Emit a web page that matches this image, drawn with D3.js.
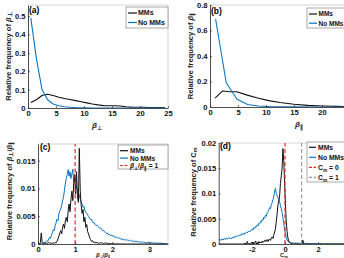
<!DOCTYPE html>
<html>
<head>
<meta charset="utf-8">
<script src="https://cdn.jsdelivr.net/npm/d3@7"></script>
<style>
  body { margin: 0; background: #fff; }
  svg { display: block; font-family: "Liberation Sans", Arial, sans-serif; font-weight: bold; }
</style>
</head>
<body>
<script>
// (a) beta_perp histogram, bin centres
const aX = [0.5, 1.5, 2.5, 3.5, 4.5, 5.5, 6.5, 7.5, 8.5, 9.5, 10.5, 11.5, 12.5, 13.5, 14.5, 15.5, 16.5, 17.5, 18.5, 19.5, 20.5, 21.5, 22.5, 23.5, 24.5]
const aMMs = [0.03, 0.045, 0.068, 0.075, 0.068, 0.058, 0.052, 0.046, 0.040, 0.034, 0.028, 0.022, 0.017, 0.013, 0.012, 0.012, 0.011, 0.007, 0.005, 0.004, 0.004, 0.003, 0.002, 0.002, 0.001]
const aNoMMs = [0.49, 0.27, 0.10, 0.045, 0.022, 0.012, 0.007, 0.004, 0.002, 0.001, 0.001, 0, 0, 0, 0, 0, 0, 0, 0, 0, 0, 0, 0, 0, 0]

// (b) beta_par histogram
const bXMMs = [0.9, 2.2, 3.5, 4.8, 6.5, 8.5, 10.5, 12.5, 15, 17.5, 20, 22.5, 25]
const bMMs = [0.07, 0.125, 0.12, 0.12, 0.095, 0.07, 0.05, 0.035, 0.022, 0.013, 0.008, 0.005, 0.003]
const bXNoMMs = [1, 2.9, 4.8, 6.7, 8.6, 10.5, 12.4, 15, 20, 25]
const bNoMMs = [0.69, 0.19, 0.063, 0.02, 0.008, 0.004, 0.002, 0.001, 0.0005, 0]

// (c) beta_perp/beta_par histogram, values in units of 1e-4, bins of 0.025 from 0
const cBinStart = 0
const cBinWidth = 0.025
const cNoMMs = [
  0, 0, 1, 0, 1, 2, 2, 3,
  4, 6, 5, 9, 12, 10, 16, 20,
  26, 24, 33, 38, 45, 42, 55, 60,
  63, 70, 78, 85, 97, 110, 118, 125,
  134, 122, 130, 118, 126, 135, 112, 120,
  108, 101, 96, 92, 88, 80, 76, 72,
  66, 68, 60, 57, 55, 52, 50, 46,
  44, 45, 40, 38, 39, 35, 33, 34,
  32, 30, 28, 29, 26, 24, 25, 22,
  21, 19, 20, 17, 18, 16, 15, 16,
  14, 15, 12, 13, 11, 12, 10, 11,
  10, 9, 8, 9, 8, 7, 8, 7,
  7, 6, 7, 6, 5, 6, 5, 5,
  5, 4, 5, 4, 4, 3, 4, 3,
  3, 4, 3, 3, 2, 3, 2, 3,
  2, 2, 3, 2, 2, 1, 2, 2,
  1, 2, 1, 1, 2, 1, 1, 1,
  1, 1, 0, 1
]
const cMMs = [
  0, 0, 2, 20, 3, 1, 2, 1,
  1, 2, 1, 3, 1, 2, 1, 2,
  2, 1, 3, 2, 5, 9, 14, 20,
  24, 18, 30, 36, 28, 42, 48, 40,
  60, 72, 58, 80, 95, 78, 110, 125,
  90, 130, 85, 75, 172, 95, 70, 55,
  62, 40, 48, 30, 35, 22, 18, 12,
  8, 5, 6, 3, 4, 2, 3, 2,
  2, 1, 2, 3, 1, 2, 1, 2,
  1, 2, 1, 1, 0, 1, 1, 0,
  1, 0, 1, 0, 0, 1, 0, 0,
  0, 0, 0, 0, 0, 0, 0, 0,
  0, 0, 0, 0, 0, 0, 0, 0,
  0, 0, 0, 0, 0, 0, 0, 0,
  0, 0, 0, 0, 0, 0, 0, 0,
  0, 0, 0, 0, 0, 0, 0, 0,
  0, 0, 0, 0, 0, 0, 0, 0,
  0, 0, 0, 0
]

// (d) C_m histogram, values in units of 1e-4, bins of 0.05 from -4
const dBinStart = -4
const dBinWidth = 0.05
const dNoMMs = [
  8, 9, 7, 10, 9, 8, 11, 10, 9, 12, 10, 11, 13, 11, 12, 10, 13, 14, 12, 15,
  14, 16, 15, 17, 16, 18, 17, 20, 18, 21, 19, 22, 21, 23, 22, 25, 24, 26, 25, 28,
  30, 28, 33, 31, 35, 34, 38, 36, 41, 40,
  45, 43, 49, 47, 53, 51, 57, 55, 62, 64,
  68, 72, 70, 78, 82, 88, 94, 106, 110, 100,
  96, 92, 88, 84, 76, 70, 62, 52, 40, 30,
  20, 12, 8, 5, 4, 3, 3, 2, 2, 2,
  2, 1, 2, 2, 1, 2, 1, 1, 2, 1,
  2, 1, 1, 2, 1, 1, 1, 1, 1, 1, 1, 1, 0, 1, 1, 1, 0, 1, 1, 0,
  1, 0, 1, 0, 1, 1, 0, 0, 1, 0, 0, 1, 0, 0, 1, 0, 0, 0, 1, 0,
  0, 0, 1, 0, 0, 0, 0, 1, 0, 0, 0, 0, 0, 1, 0, 0, 0, 0, 0, 0
]
const dMMs = [
  0, 0, 0, 0, 0, 0, 0, 0, 0, 0, 0, 0, 0, 0, 0, 0, 0, 0, 0, 0,
  0, 0, 0, 0, 0, 0, 0, 0, 0, 0, 0, 2, 0, 0, 5, 0, 0, 1, 0, 3,
  0, 4, 0, 2, 6, 0, 3, 0, 5, 2,
  4, 2, 6, 3, 5, 8, 4, 6, 9, 5,
  8, 10, 7, 12, 14, 11, 18, 24, 30, 45,
  60, 78, 85, 95, 120, 135, 150, 189, 165, 120,
  80, 45, 25, 12, 6, 3, 2, 1, 1, 0,
  0, 0, 1, 0, 0, 0, 1, 0, 0, 0,
  0, 8, 1, 0, 0, 0, 0, 0, 0, 0, 0, 0, 0, 0, 0, 0, 0, 0, 0, 0,
  0, 0, 0, 0, 0, 0, 0, 0, 0, 0, 0, 0, 0, 0, 0, 0, 0, 0, 0, 0,
  0, 0, 0, 0, 0, 0, 0, 0, 0, 0, 0, 0, 0, 0, 0, 0, 0, 0, 0, 0
]

const blue = '#0a74c0'
const black = '#111'
const red = '#e8262b'

const svg = d3.select('body').append('svg').attr('width', 344).attr('height', 258)

const pts = (xs, ys) => xs.map((x, i) => [x, ys[i]])
const bins = (start, w, vals) => vals.map((v, i) => [start + w * (i + 0.5), v / 1e4])

let clipId = 0

function rich (sel, parts, subSize, shift) {
  parts.forEach(p => sel.append('tspan')
    .attr('baseline-shift', p.sub ? (shift || '-30%') : null)
    .attr('font-size', p.sub ? subSize : null)
    .attr('font-style', p.it ? 'italic' : null)
    .text(p.t))
}

function panel (o) {
  const g = svg.append('g')
  const x = d3.scaleLinear().domain(o.xd).range(o.xr)
  const y = d3.scaleLinear().domain(o.yd).range(o.yr)
  const id = 'clip' + (clipId++)
  g.append('clipPath').attr('id', id).append('rect')
    .attr('x', o.xr[0]).attr('y', o.yr[1]).attr('width', o.xr[1] - o.xr[0]).attr('height', o.yr[0] - o.yr[1])

  // light box
  g.append('path')
    .attr('d', `M${o.xr[0]},${o.yr[1]}H${o.xr[1]}V${o.yr[0]}`)
    .attr('fill', 'none').attr('stroke', '#bbb').attr('stroke-width', 0.6)

  const plot = g.append('g').attr('clip-path', `url(#${id})`)
  const line = d3.line().x(d => x(d[0])).y(d => y(d[1]))

  o.series.forEach(s => {
    plot.append('path').datum(s.data).attr('d', line)
      .attr('fill', 'none').attr('stroke', s.color).attr('stroke-width', s.w || 1.1)
      .attr('stroke-linejoin', 'round')
  })
  ;(o.vlines || []).forEach(v => {
    plot.append('line')
      .attr('x1', x(v.x)).attr('x2', x(v.x)).attr('y1', o.yr[0]).attr('y2', o.yr[1])
      .attr('stroke', v.color).attr('stroke-width', 1.2).attr('stroke-dasharray', '4,2.5')
  })

  const fmt = d3.format('~g')
  const xa = g.append('g').attr('transform', `translate(0,${o.yr[0]})`)
    .call(d3.axisBottom(x).tickValues(o.xt).tickSizeInner(-2).tickSizeOuter(0).tickPadding(3)
      .tickFormat(d => fmt(d).replace('−', '-')))
  const ya = g.append('g').attr('transform', `translate(${o.xr[0]},0)`)
    .call(d3.axisLeft(y).tickValues(o.yt).tickSizeInner(-2).tickSizeOuter(0).tickPadding(2.5).tickFormat(fmt))
  ;[xa, ya].forEach(a => {
    a.select('.domain').attr('stroke', '#222').attr('stroke-width', 0.8)
    a.selectAll('.tick line').attr('stroke', '#222').attr('stroke-width', 0.6)
    a.selectAll('text').attr('font-size', 7.6).attr('font-family', null).attr('fill', '#111')
  })

  // panel tag
  g.append('text').attr('x', o.tag[0]).attr('y', o.tag[1]).attr('font-size', 8.5).text(o.tag[2])

  // y label
  const yl = g.append('text')
    .attr('transform', `translate(${o.ylab.x},${o.ylab.y}) rotate(-90)`)
    .attr('text-anchor', 'middle').attr('dominant-baseline', 'central')
    .attr('font-size', 7.6).attr('fill', '#222')
  rich(yl, o.ylab.parts, 5.5)

  // x label
  const xl = g.append('text').attr('x', o.xlab.x).attr('y', o.xlab.y)
    .attr('text-anchor', 'middle').attr('font-size', o.xlab.size || 8).attr('fill', '#222')
  rich(xl, o.xlab.parts, o.xlab.sub || 5.5, o.xlab.shift)

  // legend
  const L = o.legend
  g.append('rect').attr('x', L.x).attr('y', L.y).attr('width', L.w).attr('height', L.h)
    .attr('fill', '#fff').attr('stroke', '#555').attr('stroke-width', 0.5)
  L.items.forEach((it, i) => {
    const cy = L.y0 + i * L.dy
    g.append('line').attr('x1', L.sx[0]).attr('x2', L.sx[1]).attr('y1', cy).attr('y2', cy)
      .attr('stroke', it.color).attr('stroke-width', 1.2)
      .attr('stroke-dasharray', it.dash ? '3,1.5' : null)
    const t = g.append('text').attr('x', L.tx).attr('y', cy + 2.4).attr('font-size', L.fs || 7).attr('fill', '#111')
    rich(t, it.parts, 4.8)
  })
}

const mms = [{ t: 'MMs' }]
const nomms = [{ t: 'No MMs' }]
const ratio = [{ t: 'β', it: true }, { t: '⊥', sub: true }, { t: '/' }, { t: 'β', it: true }, { t: '∥', sub: true }]

panel({
  xd: [0, 25], xr: [28, 168], yd: [0, 0.56], yr: [108, 5],
  xt: [0, 5, 10, 15, 20, 25], yt: [0, 0.1, 0.2, 0.3, 0.4, 0.5],
  series: [{ data: pts(aX, aMMs), color: black }, { data: pts(aX, aNoMMs), color: blue }],
  tag: [29, 13, '(a)'],
  ylab: { x: 8, y: 56.5, parts: [{ t: 'Relative frequency of ' }, { t: 'β', it: true }, { t: '⊥', sub: true }] },
  xlab: { x: 97, y: 128, parts: [{ t: 'β', it: true }, { t: '⊥', sub: true }] },
  legend: { x: 126, y: 7, w: 42, h: 21, y0: 13, dy: 9.5, sx: [128, 137], tx: 138,
    items: [{ color: black, parts: mms }, { color: blue, parts: nomms }] }
})

panel({
  xd: [0, 25], xr: [210, 350], yd: [0, 0.8], yr: [107, 5],
  xt: [0, 5, 10, 15, 20], yt: [0, 0.2, 0.4, 0.6, 0.8],
  series: [{ data: pts(bXMMs, bMMs), color: black }, { data: pts(bXNoMMs, bNoMMs), color: blue }],
  tag: [211, 14, '(b)'],
  ylab: { x: 190, y: 56, parts: [{ t: 'Relative frequency of ' }, { t: 'β', it: true }, { t: '∥', sub: true }] },
  xlab: { x: 299, y: 127, parts: [{ t: 'β', it: true }, { t: '∥', sub: true }] },
  legend: { x: 307, y: 8, w: 45, h: 20, y0: 14, dy: 9.2, sx: [309, 317], tx: 318.5, fs: 6.5,
    items: [{ color: black, parts: mms }, { color: blue, parts: nomms }] }
})

panel({
  xd: [0, 3.5], xr: [38, 168], yd: [0, 0.018], yr: [244, 144],
  xt: [0, 1, 2, 3], yt: [0, 0.005, 0.01, 0.015],
  series: [{ data: bins(cBinStart, cBinWidth, cNoMMs), color: blue, w: 1 }, { data: bins(cBinStart, cBinWidth, cMMs), color: black, w: 1 }],
  vlines: [{ x: 1, color: red }],
  tag: [40, 150, '(c)'],
  ylab: { x: 9, y: 191, parts: [{ t: 'Relative frequency of ' }].concat(ratio) },
  xlab: { x: 103, y: 257, size: 6, sub: 4.2, shift: '-15%', parts: ratio },
  legend: { x: 118, y: 145, w: 50, h: 24, y0: 150.7, dy: 7.4, sx: [120, 128], tx: 130, fs: 6.6,
    items: [{ color: black, parts: mms }, { color: blue, parts: nomms },
      { color: red, dash: true, parts: ratio.concat([{ t: ' = 1' }]) }] }
})

panel({
  xd: [-4, 4], xr: [218.7, 351.3], yd: [0, 0.02], yr: [244, 143],
  xt: [-2, 0, 2], yt: [0, 0.005, 0.01, 0.015, 0.02],
  series: [{ data: bins(dBinStart, dBinWidth, dNoMMs), color: blue, w: 1 }, { data: bins(dBinStart, dBinWidth, dMMs), color: black, w: 1 }],
  vlines: [{ x: 0, color: red }, { x: 1, color: '#999' }],
  tag: [220, 149, '(d)'],
  ylab: { x: 193, y: 192, parts: [{ t: 'Relative frequency of C' }, { t: 'm', sub: true }] },
  xlab: { x: 284, y: 257, size: 6, sub: 4.2, shift: '-15%', parts: [{ t: 'C' }, { t: 'm', sub: true }] },
  legend: { x: 307, y: 142, w: 45, h: 40, y0: 147.3, dy: 10, sx: [309, 316], tx: 318, fs: 6.8,
    items: [{ color: black, parts: mms }, { color: blue, parts: nomms },
      { color: red, dash: true, parts: [{ t: 'C' }, { t: 'm', sub: true }, { t: ' = 0' }] },
      { color: '#999', dash: true, parts: [{ t: 'C' }, { t: 'm', sub: true }, { t: ' = 1' }] }] }
})
</script>
</body>
</html>
